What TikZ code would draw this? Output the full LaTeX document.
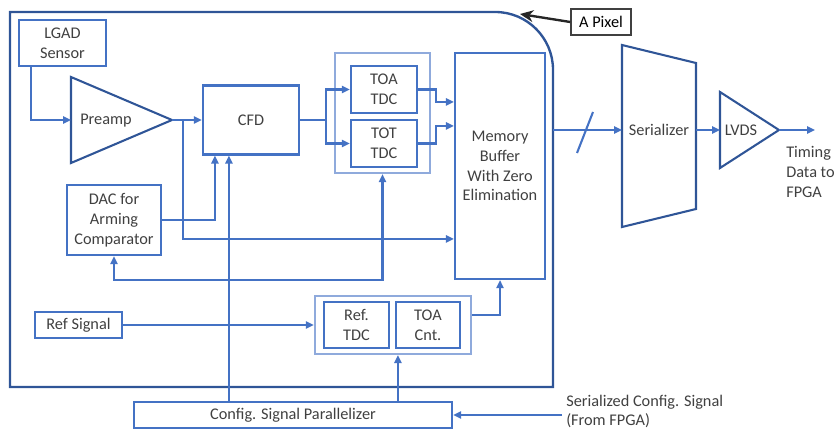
\documentclass[tikz,border=0pt]{standalone}
\usepackage{fontspec}
\setmainfont{Carlito}
\usetikzlibrary{arrows.meta,calc}
\definecolor{bblue}{RGB}{68,114,196}
\definecolor{dblue}{RGB}{47,85,151}
\definecolor{lblue}{RGB}{143,170,220}
\definecolor{txtgray}{RGB}{64,64,64}
\newcommand{\unitpx}{0.675pt}
\tikzset{
  blk/.style 2 args={draw=bblue,line width=1.4pt,text=txtgray,align=center,inner sep=0pt,
    minimum width=#1*\unitpx,minimum height=#2*\unitpx},
  grp/.style 2 args={draw=lblue,line width=1.4pt,inner sep=0pt,
    minimum width=#1*\unitpx,minimum height=#2*\unitpx},
  lbl/.style={text=txtgray,align=left,inner sep=0pt},
  wire/.style={bblue,line width=1.4pt},
  shp/.style={dblue,line width=1.4pt},
  arr/.style={wire,-{Triangle[length=5.4pt,width=4.8pt]}},
  arrs/.style={wire,{Triangle[length=5.4pt,width=4.8pt]}-{Triangle[length=5.4pt,width=4.8pt]}},
}
\begin{document}
\begin{tikzpicture}[x=\unitpx,y=-\unitpx,font=\fontsize{11}{13.4}\selectfont]
\useasboundingbox (0,0) rectangle (835,432);
% pixel outline
\draw[dblue,line width=1.6pt] (300,12) -- (10,12) -- (10,387) -- (553,387) -- (553,200) [rounded corners=39pt] |- (300,12);
% blocks
\node[blk={87}{46}] (lgad) at (62.5,43) {LGAD\\Sensor};
\node[blk={96}{69}] (cfd) at (251,120) {CFD};
\node[blk={94}{70}] (dac) at (114,220) {DAC for\\Arming\\Comparator};
\node[grp={95}{120}] (tdcs) at (382.5,113) {};
\node[blk={66}{47}] (toa) at (384,89.5) {TOA\\TDC};
\node[blk={66}{47}] (tot) at (384,143.5) {TOT\\TDC};
\node[blk={90}{226}] (mem) at (500,166) {Memory\\Buffer\\With Zero\\Elimination};
\node[grp={156}{58}] (refs) at (393,325) {};
\node[blk={65}{46}] (reftdc) at (356.5,325) {Ref.\\TDC};
\node[blk={64}{46}] (cnt) at (428,325) {TOA\\Cnt.};
\node[blk={87}{26}] (refsig) at (78.5,325) {Ref Signal};
\node[blk={318}{26}] (cfg) at (293,415) {Config. Signal Parallelizer};
\node[lbl,anchor=west] (cfgtxt) at (566,411.5) {Serialized Config. Signal\\(From FPGA)};
\node[lbl,anchor=west] (outtxt) at (786,172) {Timing\\Data to\\FPGA};
\node[draw=black!75,line width=1pt,inner sep=0pt,minimum width=60*\unitpx,minimum height=26*\unitpx] (tag) at (601,22) {A Pixel};
% amplifiers and serializer
\draw[shp] (71,77) -- (172,120) coordinate (pre-out) -- (71,163) -- cycle;
\coordinate (pre-in) at (71,120);
\node[lbl] (pre) at (106,121) {Preamp};
\draw[shp] (622,45) -- (696,63) -- (696,209) -- (622,227) -- cycle;
\coordinate (ser-in) at (622,130);
\coordinate (ser-out) at (696,130);
\node[lbl] (ser) at (659,130) {Serializer};
\draw[shp] (720,92) -- (779,130) coordinate (lvds-out) -- (720,168) -- cycle;
\coordinate (lvds-in) at (720,130);
\node[lbl] (lvds) at (741,130) {LVDS};
% connections
\draw[arr] ($(lgad.south west)+(13,0)$) |- (pre-in);
\draw[arr] (pre-out) -- (cfd.west);
\draw[arr] ($(pre-out)+(11,0)$) |- ($(mem.north west)+(0,187)$);
\draw[arr] (dac.east) -| ($(cfd.south west)+(13,0)$);
\coordinate (cfgup) at ($(cfd.south west)+(27,0)$);
\draw[arr] (cfgup |- cfg.north) -- (cfgup);
\coordinate (split) at ($(cfd.east)+(26,0)$);
\draw[wire] (cfd.east) -- (split);
\draw[arr] (split) |- (toa.west);
\draw[arr] (split) |- (tot.west);
\draw[arr] (toa.east) -- ++(18,0) |- ($(mem.north west)+(0,50)$);
\draw[arr] (tot.east) -- ++(18,0) |- ($(mem.north west)+(0,74)$);
\draw[arrs] (dac.south) |- (tdcs.south |- mem.south) -- (tdcs.south);
\draw[arr] (refsig.east) -- (refs.west);
\draw[arr] ($(refs.north east)+(0,20)$) -| (mem.south);
\coordinate (cfgref) at ($(cfg.north west)+(265,0)$);
\draw[arr] (cfgref) -- (cfgref |- refs.south);
\draw[arr] ($(cfgtxt.west |- cfg.east)+(-4,0)$) -- (cfg.east);
\coordinate (bus) at (553,130);
\draw[arr] (bus) -- (ser-in);
\draw[wire] (577,153) -- (593,112);
\draw[arr] (ser-out) -- (lvds-in);
\draw[arr] (lvds-out) -- ++(36,0);
\draw[black!85,line width=1.6pt,-{Stealth[length=9pt,width=8pt]}] (tag.west) -- (520,14);
\end{tikzpicture}
\end{document}
